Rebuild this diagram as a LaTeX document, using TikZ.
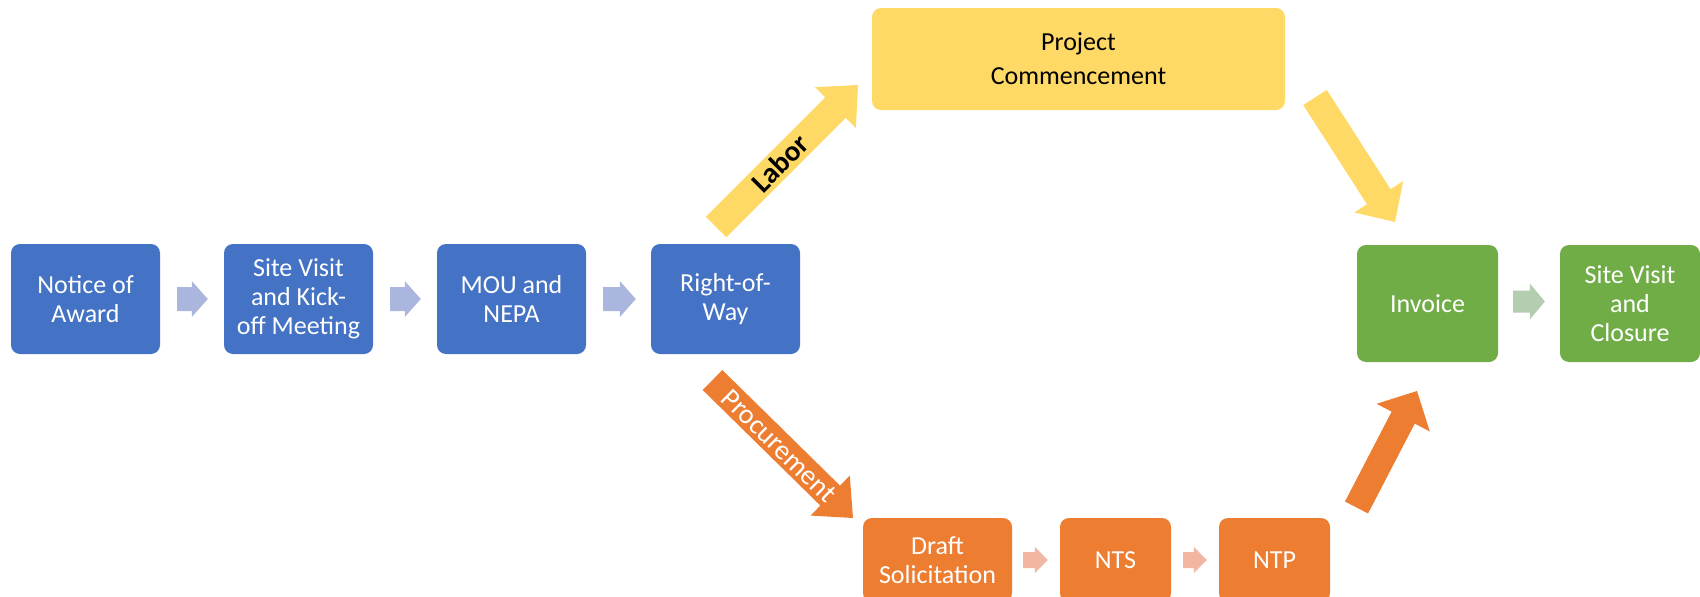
\documentclass[tikz,border=0pt]{standalone}
\usepackage{fontspec}
\setmainfont{Carlito}
\usetikzlibrary{calc}
\definecolor{bluebox}{HTML}{4472C4}
\definecolor{bluearr}{HTML}{AAB6DE}
\definecolor{yel}{HTML}{FFD966}
\definecolor{orng}{HTML}{ED7D31}
\definecolor{orarr}{HTML}{F2B7A2}
\definecolor{grn}{HTML}{70AD47}
\definecolor{grarr}{HTML}{B4CCAF}
% #1 tail, #2 tip, #3 shaft half width, #4 head half width, #5 head length, #6 colour
\newcommand\blockarr[6]{%
  \coordinate (hb) at ($(#2)!#5!(#1)$);
  \fill[#6] ($(#1)!#3!90:(#2)$) -- ($(hb)!#3!90:(#2)$) -- ($(hb)!#4!90:(#2)$) -- (#2)
    -- ($(hb)!#4!-90:(#2)$) -- ($(hb)!#3!-90:(#2)$) -- ($(#1)!#3!-90:(#2)$) -- cycle;}
\tikzset{
  pbox/.style={rounded corners=9pt, inner sep=0pt, align=center, text=white,
    font=\fontsize{26}{29}\selectfont},
  bluenode/.style={pbox, fill=bluebox, minimum width=149pt, minimum height=110pt},
  greennode/.style={pbox, fill=grn, minimum height=117pt},
  orangenode/.style={pbox, fill=orng, minimum height=84pt},
  yellownode/.style={pbox, fill=yel, text=black, font=\fontsize{26}{34}\selectfont}
}
\begin{document}
\begin{tikzpicture}[x=1pt,y=-1pt]
\useasboundingbox (0,0) rectangle (1700,597);
\clip (0,0) rectangle (1700,597);
% boxes
\node[bluenode] (n1) at (85.5,299) {Notice of\\Award};
\node[bluenode] (n2) at (298.5,299) {Site Visit\\and Kick-\\off Meeting};
\node[bluenode] (n3) at (511.5,299) {MOU and\\NEPA};
\node[bluenode] (n4) at (725.5,299) {Right-of-\\Way};
\node[yellownode, minimum width=413pt, minimum height=102pt] (pc) at (1078.5,59) {Project\\Commencement};
\node[greennode, minimum width=141pt] (inv) at (1427.5,303.5) {Invoice};
\node[greennode, minimum width=140pt] (sv) at (1630,303.5) {Site Visit\\and\\Closure};
\node[orangenode, minimum width=149pt] (ds) at (937.5,560) {Draft\\Solicitation};
\node[orangenode, minimum width=111pt] (nts) at (1115.5,560) {NTS};
\node[orangenode, minimum width=111pt] (ntp) at (1274.5,560) {NTP};
% small arrows
\coordinate (a1s) at ($(n1.east)+(17,0)$); \coordinate (a1e) at ($(n2.west)+(-16,0)$);
\coordinate (a2s) at ($(n2.east)+(17,0)$); \coordinate (a2e) at ($(n3.west)+(-16,0)$);
\coordinate (a3s) at ($(n3.east)+(17,0)$); \coordinate (a3e) at ($(n4.west)+(-15,0)$);
\blockarr{a1s}{a1e}{12pt}{18pt}{16pt}{bluearr}
\blockarr{a2s}{a2e}{12pt}{18pt}{16pt}{bluearr}
\blockarr{a3s}{a3e}{12pt}{18pt}{16pt}{bluearr}
\coordinate (g1s) at ($(inv.east)+(15,-2)$); \coordinate (g1e) at ($(sv.west)+(-15,-2)$);
\blockarr{g1s}{g1e}{11pt}{18pt}{15pt}{grarr}
\coordinate (o1s) at ($(ds.east)+(11,0)$); \coordinate (o1e) at ($(nts.west)+(-12,0)$);
\coordinate (o2s) at ($(nts.east)+(12,0)$); \coordinate (o2e) at ($(ntp.west)+(-12,0)$);
\blockarr{o1s}{o1e}{8pt}{13pt}{13pt}{orarr}
\blockarr{o2s}{o2e}{8pt}{13pt}{13pt}{orarr}
% big arrows
\coordinate (labS) at (716,227); \coordinate (labE) at (858,85);
\blockarr{labS}{labE}{14.5pt}{29pt}{32pt}{yel}
\coordinate (proS) at (712.5,380); \coordinate (proE) at (853,518);
\blockarr{proS}{proE}{14pt}{28pt}{32pt}{orng}
\coordinate (pcS) at (1315,97.5); \coordinate (pcE) at (1395,222);
\blockarr{pcS}{pcE}{14pt}{29pt}{30pt}{yel}
\coordinate (ntpS) at (1356.5,507.5); \coordinate (ntpE) at (1417,391);
\blockarr{ntpS}{ntpE}{13pt}{30pt}{30pt}{orng}
% labels
\node[rotate=45, inner sep=0pt, font=\bfseries\fontsize{29}{29}\selectfont] (labt) at (780,163) {Labor};
\node[rotate=-44.5, inner sep=0pt, text=white, font=\fontsize{28}{28}\selectfont] (prot) at (779,446) {Procurement};
\end{tikzpicture}
\end{document}
